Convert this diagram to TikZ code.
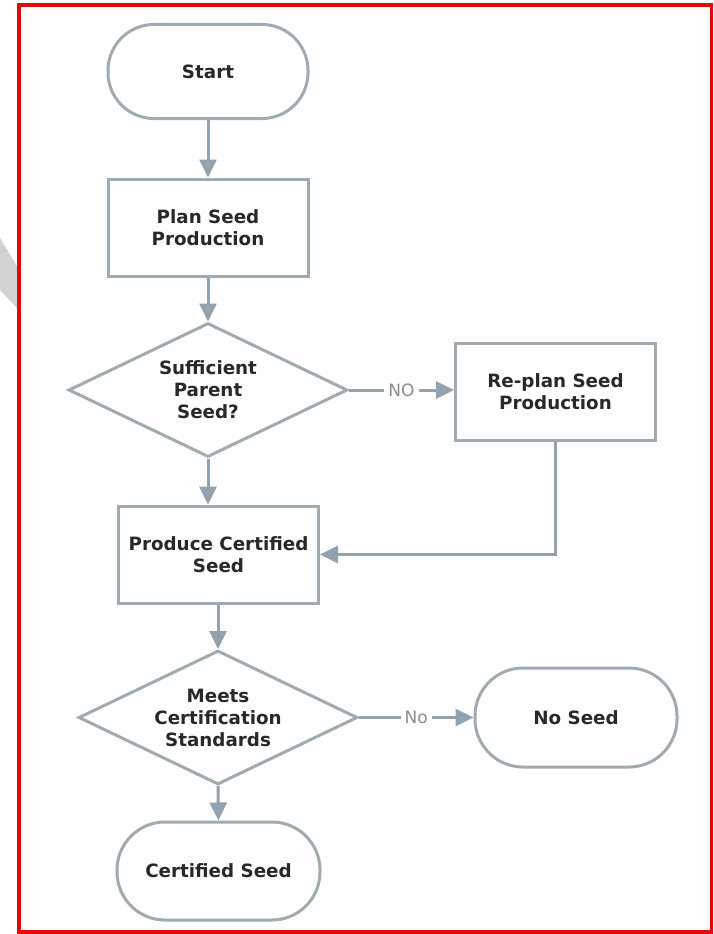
\documentclass[tikz,border=0pt]{standalone}
\usepackage{fontspec}
\setmainfont{DejaVu Sans}
\usetikzlibrary{shapes.geometric,arrows.meta,calc}
\definecolor{linec}{RGB}{146,162,174}
\definecolor{boxc}{RGB}{160,170,178}
\definecolor{txt}{RGB}{40,40,40}
\definecolor{lblc}{RGB}{140,140,140}
\definecolor{framec}{RGB}{225,10,10}
\begin{document}
\begin{tikzpicture}[x=1pt,y=-1pt,
 every node/.style={font=\fontsize{18.3}{22}\selectfont\bfseries, text=txt, align=center},
 procbox/.style={draw=boxc, line width=3pt, fill=white, minimum width=200pt, minimum height=97pt, inner sep=0pt},
 termbox/.style={draw=boxc, line width=3pt, fill=white, rounded corners=46pt, minimum width=200pt, minimum height=94pt, inner sep=0pt},
 decbox/.style={draw=boxc, line width=3pt, fill=white, diamond, minimum width=279pt, minimum height=134pt, inner sep=0pt},
 flow/.style={draw=linec, line width=3pt, -{Triangle[length=18pt,width=17pt]}},
 lbl/.style={font=\fontsize{17}{20}\selectfont, text=lblc, fill=white, inner sep=4pt}
]
\useasboundingbox (0,0) rectangle (714,934);
\fill[white] (0,0) rectangle (714,934);
\fill[gray!35] (0,238) -- (17,266) -- (17,308) -- (0,290) -- cycle;
\draw[framec, line width=3.5pt] (19,5) rectangle (711.5,932);

\node[termbox] (start) at (208,71.5) {Start};
\node[procbox] (plan) at (208,227.5) {Plan Seed\\Production};
\node[decbox] (d1) at (208,390) {};
\node (d1t) at (d1) {Sufficient\\Parent\\Seed?};
\node[procbox] (replan) at (555.5,391.5) {Re-plan Seed\\Production};
\node[procbox] (produce) at (218.5,554.5) {Produce Certified\\Seed};
\node[decbox] (d2) at (218,717.5) {};
\node (d2t) at (d2) {Meets\\Certification\\Standards};
\node[termbox, minimum width=202pt, minimum height=99pt, rounded corners=48pt] (noseed) at (576,717.5) {No Seed};
\node[termbox, minimum width=203pt, minimum height=98pt, rounded corners=48pt] (cert) at (218.5,871) {Certified Seed};

\draw[flow] (start) -- (plan);
\draw[flow] (plan) -- (d1);
\draw[flow] (d1.south) -- (d1.south |- produce.north);
\draw[flow] (d1.east) -- node[lbl]{NO} (d1.east -| replan.west);
\draw[flow] (replan.south) |- (produce.east);
\draw[flow] (produce.south -| d2.north) -- (d2.north);
\draw[flow] (d2.east) -- node[lbl]{No} (noseed.west);
\draw[flow] (d2.south) -- (cert.north);
\end{tikzpicture}
\end{document}
